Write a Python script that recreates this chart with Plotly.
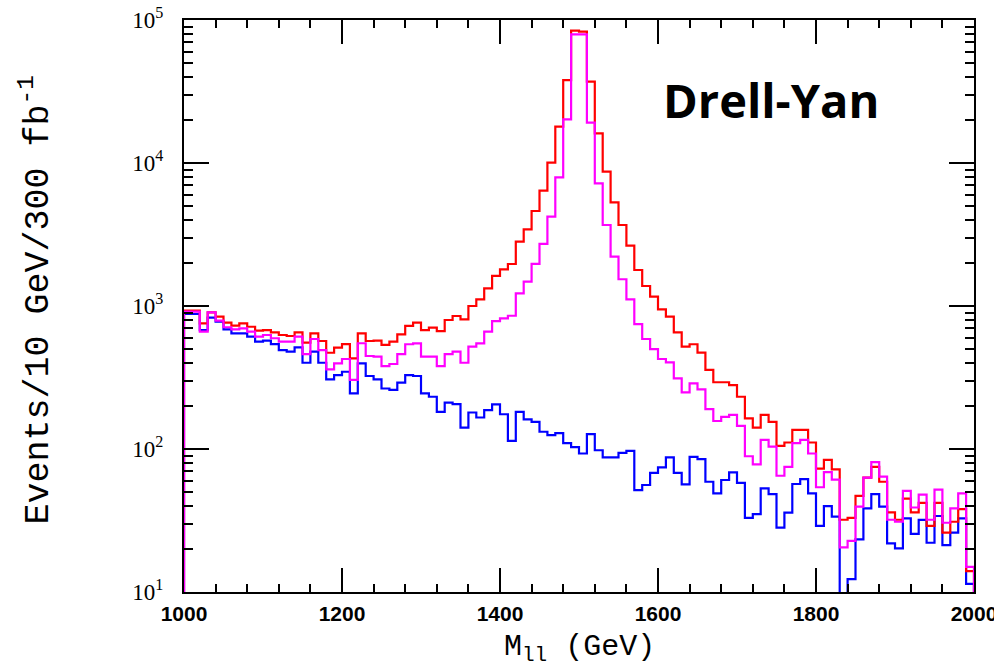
import numpy as np
import plotly.graph_objects as go

# Bin left edges (10 GeV bins, 1000-2000 GeV)
bin_lo = list(range(1000, 2000, 10))
x_max = 2000

# Events / 10 GeV / 300 fb^-1
red_vals = [
    927, 927, 757, 903, 842, 764, 728, 757, 716, 672,
    679, 654, 627, 617, 654, 554, 644, 569, 471, 511,
    542, 430, 644, 569, 572, 534, 563, 634, 725, 764,
    679, 705, 668, 798, 851, 807, 1000, 1113, 1330, 1622,
    1806, 1966, 2818, 3438, 4617, 6400, 10050, 17950, 38020, 84200,
    82800, 37050, 16110, 8690, 5310, 3684, 2642, 1786, 1380, 1162,
    948, 842, 654, 520, 540, 472, 357, 293, 293, 280,
    232, 164, 141, 173, 155, 105, 111, 136, 136, 111,
    73, 84, 72, 32, 33, 47, 63, 75, 59, 36,
    32, 45, 36, 42, 29, 42, 26, 31, 38, 14,
]
magenta_vals = [
    913, 913, 661, 903, 789, 710, 687, 698, 661, 611,
    627, 595, 563, 563, 611, 461, 588, 492, 361, 397,
    426, 304, 549, 447, 442, 380, 393, 461, 540, 548,
    442, 442, 380, 461, 479, 401, 520, 548, 661, 785,
    820, 855, 1227, 1479, 1968, 2716, 4218, 7943, 20180, 79430,
    79430, 19140, 7211, 3684, 2213, 1538, 1113, 748, 588, 500,
    426, 404, 312, 249, 288, 261, 190, 157, 168, 173,
    145, 89, 78, 116, 104, 65, 75, 110, 116, 93,
    54, 69, 61, 20.5, 22.8, 39.5, 63, 81, 64, 32,
    31, 51, 39, 48, 32, 52, 30.5, 38.5, 49, 15,
]
blue_vals = [
    879, 879, 679, 829, 777, 687, 644, 644, 611, 563,
    572, 542, 492, 479, 514, 401, 479, 401, 307, 329,
    347, 245, 397, 324, 307, 265, 259, 291, 329, 324,
    245, 232, 182, 211, 206, 141, 180, 166, 187, 205,
    175, 114, 182, 161, 155, 132, 125, 129, 110, 103,
    93, 127, 98, 87.5, 87.5, 94, 97, 51.6, 56, 68,
    74.5, 87.5, 68, 56.6, 88, 85, 59, 49, 60.7, 68.7,
    58, 33, 35, 53, 48.4, 28.2, 35.9, 56.9, 61.6, 49,
    29, 39.9, 33.7, 1, 12.3, 23.3, 38.5, 48.4, 39.5, 21.9,
    20.2, 32.7, 25.5, 31.9, 22.1, 34, 21.3, 26, 32.7, 11.4,
]

y_major = [10, 100, 1000, 10000, 100000]
y_major_text = ["10<sup>1</sup>", "10<sup>2</sup>", "10<sup>3</sup>",
                "10<sup>4</sup>", "10<sup>5</sup>"]
x_major = [1000, 1200, 1400, 1600, 1800, 2000]
x_major_text = ["1000", "1200", "1400", "1600", "1800", "2000"]

floor_val = 1  # histogram outline closes to the (off-scale) baseline


def outline(vals):
    xs = [bin_lo[0]] + bin_lo + [x_max]
    ys = [floor_val] + list(vals) + [floor_val]
    return xs, ys


fig = go.Figure()
for vals, col in [(blue_vals, "#0000FF"), (red_vals, "#FF0000"),
                  (magenta_vals, "#FF00FF")]:
    xs, ys = outline(vals)
    fig.add_trace(go.Scatter(x=xs, y=ys, mode="lines",
                             line=dict(color=col, width=2.2, shape="hv"),
                             showlegend=False, hoverinfo="skip"))

y_minor = [m * 10 ** k for k in range(1, 5) for m in range(2, 10)]

fig.update_xaxes(
    range=[1000, 2000], tickmode="array", tickvals=x_major, ticktext=x_major_text,
    ticks="inside", ticklen=24, tickwidth=2, tickcolor="black",
    minor=dict(tickmode="linear", tick0=1000, dtick=40, ticks="inside",
               ticklen=8, tickwidth=2, tickcolor="black"),
    showline=True, linewidth=2, linecolor="black", mirror="allticks",
    showgrid=False, zeroline=False, automargin=False,
    tickfont=dict(family="Liberation Sans", size=21, color="black", weight="bold"),
    ticklabelstandoff=2, ticklabeloverflow="allow",
)
fig.update_yaxes(
    type="log", range=[1, 5], tickmode="array", tickvals=y_major, ticktext=y_major_text,
    ticks="inside", ticklen=25, tickwidth=2, tickcolor="black",
    minor=dict(tickmode="array", tickvals=y_minor, ticks="inside",
               ticklen=9, tickwidth=2, tickcolor="black"),
    showline=True, linewidth=2, linecolor="black", mirror="allticks",
    showgrid=False, zeroline=False, automargin=False,
    tickfont=dict(family="Liberation Serif", size=23, color="black"),
    ticklabelstandoff=14, ticklabeloverflow="allow",
)

fig.add_annotation(text="Events/10 GeV/300 fb<sup>-1</sup>", textangle=-90,
                   xref="paper", yref="paper", x=-0.187, y=0.51,
                   xanchor="center", yanchor="middle", showarrow=False,
                   font=dict(family="Liberation Mono", size=35, color="black"))
fig.add_annotation(text="M<sub>ll</sub> (GeV)",
                   xref="paper", yref="paper", x=0.501, y=-0.098,
                   xanchor="center", yanchor="middle", showarrow=False,
                   font=dict(family="Liberation Mono", size=30, color="black"))
fig.add_annotation(text="Drell-Yan",
                   xref="paper", yref="paper", x=0.743, y=0.860,
                   xanchor="center", yanchor="middle", showarrow=False,
                   font=dict(family="Open Sans", size=47, color="black", weight="bold"))

fig.update_layout(
    width=994, height=669,
    margin=dict(l=184, r=20, t=20, b=77),
    plot_bgcolor="white", paper_bgcolor="white",
)

fig.write_html("out.html")
